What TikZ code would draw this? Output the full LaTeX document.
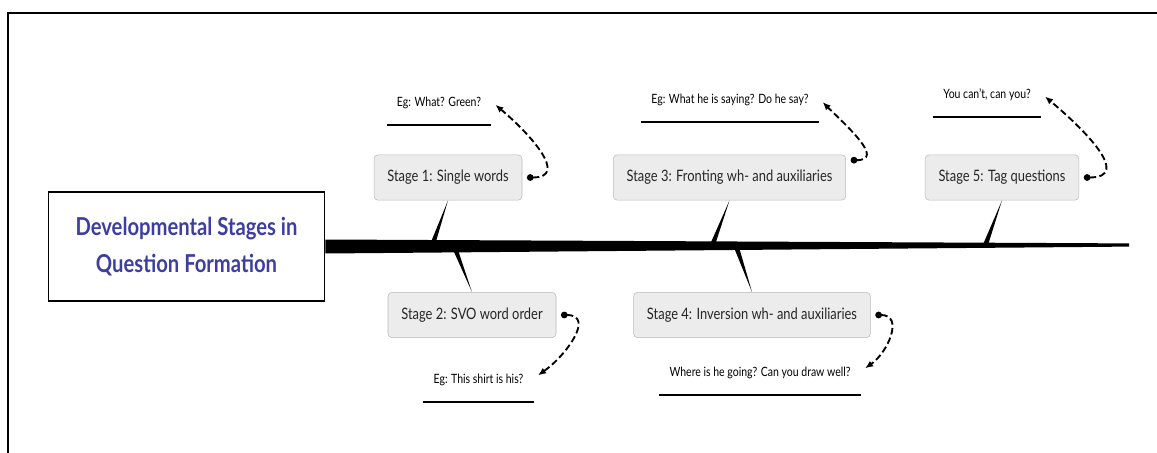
\documentclass[tikz,border=0pt]{standalone}
\usepackage{fontspec}
\setmainfont{Lato}[FakeStretch=0.82]
\usetikzlibrary{arrows.meta}
\definecolor{titleblue}{RGB}{62,62,160}
\definecolor{boxgray}{RGB}{236,236,236}

\begin{document}
\begin{tikzpicture}[x=0.75pt,y=-0.75pt,
    stage/.style = {rectangle,rounded corners=3pt,draw=gray!55,fill=boxgray,minimum height=34pt,inner xsep=10pt,font=\fontsize{11.8}{13}\selectfont,text=black!85},
    eg/.style = {anchor=south,inner xsep=7.5pt,inner ysep=14pt,text depth=0pt,font=\fontsize{9.6}{11}\selectfont,
        append after command={(\tikzlastnode.south west) edge[line width=1.5pt] (\tikzlastnode.south east)}},
    link/.style = {line width=1.4pt,dash pattern=on 5pt off 2.5pt,{Circle[length=5pt]}-{Latex[length=6pt,width=5pt]},shorten <=3.5pt,shorten >=4pt,looseness=1.5},
    branch/.style = {to path={-- ([xshift=-2pt]\tikztotarget) -- ([xshift=2pt]\tikztotarget) -- cycle}}]
\useasboundingbox (0,0) rectangle (1157,453);
\draw[line width=1.5pt] (8,453) -- (8,13) -- (1157,13);

\node[draw,line width=1.2pt,fill=white,minimum width=207pt,minimum height=82pt,align=center,text=titleblue,font=\fontsize{18.5}{27.5}\selectfont\bfseries] (title) at (186.5,246.5) {Developmental Stages in\\Question Formation};

% spine
\coordinate (tail) at (1129,245);
\fill ([yshift=5.25pt]title.east) -- ([yshift=1.2pt]tail) -- ([yshift=-1.2pt]tail) -- ([yshift=-5.25pt]title.east) -- cycle;
\foreach \x [count=\i] in {432,454,712,736,985} \coordinate (b\i) at (\x,246);

% stages
\node[stage] (s1) at (448,177.5) {Stage 1: Single words};
\node[stage] (s2) at (472,315) {Stage 2: SVO word order};
\node[stage] (s3) at (729.5,177.5) {Stage 3: Fronting wh- and auxiliaries};
\node[stage] (s4) at (752,315) {Stage 4: Inversion wh- and auxiliaries};
\node[stage] (s5) at (1002,177.5) {Stage 5: Tag questions};
\foreach \i in {1,3,5} \fill (s\i.south) to[branch] (b\i);
\foreach \i in {2,4} \fill (s\i.north) to[branch] (b\i);

% examples
\node[eg] (e1) at (439,125) {Eg: What? Green?};
\node[eg] (e2) at (478.5,402) {Eg: This shirt is his?};
\node[eg] (e3) at (730,122) {Eg: What he is saying? Do he say?};
\node[eg] (e4) at (760,395) {Where is he going? Can you draw well?};
\node[eg] (e5) at (987,117) {You can't, can you?};

\draw[link] (s1.east) to[out=0,in=-40] (e1.east);
\draw[link] (s2.east) to[out=0,in=35] (e2.east);
\draw[link] ([yshift=13pt]s3.east) to[out=0,in=-45] (e3.east);
\draw[link] (s4.east) to[out=0,in=35] (e4.east);
\draw[link] (s5.east) to[out=0,in=-40] (e5.east);
\end{tikzpicture}
\end{document}
